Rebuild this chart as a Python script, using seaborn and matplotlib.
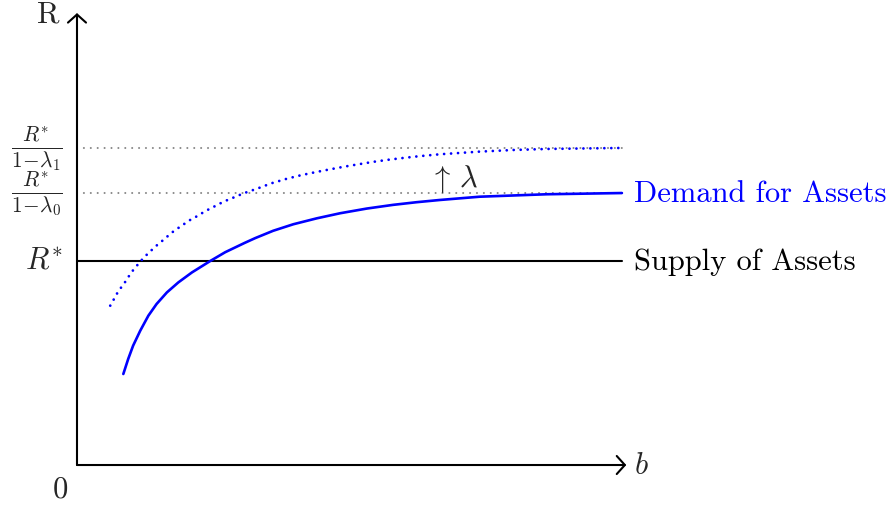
import matplotlib
matplotlib.use("Agg")
import matplotlib.pyplot as plt
import seaborn as sns

# --- values (R* = 1, b axis runs 0..10) ---
b_demand = [0.85, 0.94, 1.03, 1.16, 1.31, 1.46, 1.65, 1.86, 2.11, 2.44, 2.72, 3.08,
            3.27, 3.60, 3.97, 4.40, 4.83, 5.32, 5.80, 6.23, 6.66, 7.39, 8.62, 10.0]
r_demand = [0.446, 0.520, 0.585, 0.658, 0.732, 0.789, 0.846, 0.895, 0.944, 0.999, 1.043, 1.089,
            1.112, 1.148, 1.180, 1.209, 1.234, 1.257, 1.275, 1.288, 1.299, 1.315, 1.327, 1.333]

b_shifted = [0.61, 0.68, 0.74, 0.82, 0.90, 0.97, 1.05, 1.14, 1.23, 1.33, 1.43, 1.54,
             1.64, 1.74, 1.85, 1.96, 2.07, 2.20, 2.31, 2.43, 2.55, 2.67, 2.79, 2.93,
             3.05, 3.30, 3.57, 3.85, 4.09, 4.37, 4.64, 4.92, 5.19, 5.44, 5.71, 5.99,
             6.26, 6.66, 7.39, 8.01, 8.62, 10.0]
r_shifted = [0.781, 0.814, 0.843, 0.874, 0.903, 0.933, 0.962, 0.990, 1.018, 1.043, 1.069, 1.093,
             1.116, 1.139, 1.160, 1.180, 1.200, 1.219, 1.237, 1.255, 1.271, 1.288, 1.302, 1.317,
             1.331, 1.354, 1.381, 1.403, 1.419, 1.435, 1.449, 1.463, 1.475, 1.486, 1.496, 1.505,
             1.513, 1.523, 1.536, 1.544, 1.549, 1.554]

b_supply = [0.0, 10.0]
r_star = 1.0
r_lam0 = 1.333   # R*/(1-lambda_0)
r_lam1 = 1.554   # R*/(1-lambda_1)

level_labels = [r"$R^{*}$",
                r"$\frac{R^{*}}{1\!-\!\lambda_0}$",
                r"$\frac{R^{*}}{1\!-\!\lambda_1}$"]

sns.set_style("white")
plt.rcParams["font.family"] = ["cmr10", "DejaVu Serif"]
plt.rcParams["mathtext.fontset"] = "cm"
plt.rcParams["axes.unicode_minus"] = False

fig = plt.figure(figsize=(8.96, 5.06), dpi=100)
ax = fig.add_axes([0, 0, 1, 1])
ax.set_xlim(-1.413, 15.03)
ax.set_ylim(-0.196, 2.284)
ax.axis("off")

# gray dotted guide levels
for lvl in [r_lam1, r_lam0]:
    sns.lineplot(x=b_supply, y=[lvl, lvl], ax=ax, color="#888888", linewidth=1.5,
                 linestyle=(0, (0.01, 3.3)), dash_capstyle="round")

# supply
sns.lineplot(x=b_supply, y=[r_star, r_star], ax=ax, color="black", linewidth=1.5)

# demand curves
sns.lineplot(x=b_shifted, y=r_shifted, ax=ax, color="#0000ff", linewidth=2.0,
             linestyle=(0, (0.01, 2.5)), dash_capstyle="round", sort=False)
sns.lineplot(x=b_demand, y=r_demand, ax=ax, color="#0000ff", linewidth=1.9, sort=False)

# axes with arrow heads
arrow = dict(arrowstyle="->,head_length=0.45,head_width=0.5", lw=1.5, color="black",
             shrinkA=0, shrinkB=0, mutation_scale=13)
ax.annotate("", xy=(0, 2.215), xytext=(0, 0), arrowprops=arrow)
ax.annotate("", xy=(10.08, 0), xytext=(0, 0), arrowprops=arrow)

fs = 22
ax.text(-0.53, 2.211, "R", fontsize=fs, ha="center", va="center")
ax.text(-0.31, -0.118, "0", fontsize=fs, ha="center", va="center")
ax.text(10.22, 0.0, r"$b$", fontsize=fs, ha="left", va="center")

for lvl, lab in zip([r_star, r_lam0, r_lam1], level_labels):
    ax.text(-0.26, lvl, lab, fontsize=fs, ha="right", va="center")

ax.text(10.22, r_lam0, "Demand for Assets", fontsize=fs, color="#0000ff",
        ha="left", va="center")
ax.text(10.22, r_star, "Supply of Assets", fontsize=fs, color="black",
        ha="left", va="center")
ax.text(6.92, 1.405, r"$\uparrow\,\lambda$", fontsize=fs, ha="center", va="center")

fig.savefig("out.png", dpi=100)
